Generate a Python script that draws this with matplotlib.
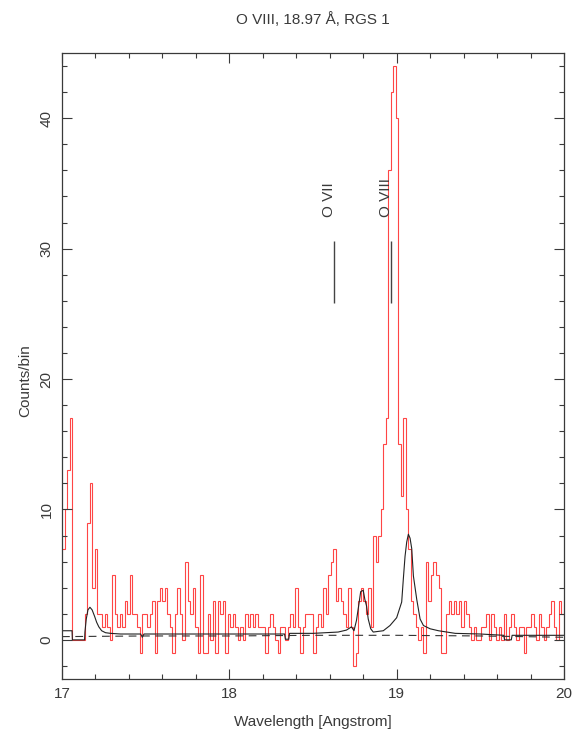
import numpy as np
import matplotlib
matplotlib.use('Agg')
import matplotlib.pyplot as plt
from matplotlib.ticker import MultipleLocator

matplotlib.rcParams['font.family'] = ['Liberation Sans', 'DejaVu Sans']

# observed counts per bin (red histogram), bins of 0.015 A starting at 17.0
bin_start = 17.0
bin_width = 0.015
counts = [
    7, 10, 13, 17, 0, 0, 0, 0, 0, 2,
    9, 12, 4, 7, 2, 2, 1, 2, 1, 0,
    5, 2, 1, 2, 1, 3, 2, 5, 2, 2,
    1, -1, 2, 2, 1, 2, 3, -1, 3, 4,
    3, 4, 2, 1, -1, 2, 4, 2, 0, 6,
    3, 2, 4, 1, -1, 5, -1, -1, 2, 0,
    3, -1, 3, 2, 3, -1, 2, 1, 2, 1,
    0, 1, 0, 2, 1, 2, 1, 2, 1, 1,
    1, -1, 1, 2, 1, 0, -1, 1, 1, 0,
    1, 2, 1, 4, 1, -1, 1, 2, 2, 2,
    -1, 1, 2, 1, 4, 2, 5, 6, 7, 3,
    4, 3, 2, 1, 4, 1, -2, -1, 3, 4,
    3, 2, 4, 1, 8, 6, 8, 10, 15, 17,
    36, 42, 44, 40, 15, 11, 17, 10, 7, 3,
    2, 1, 0, 1, -1, 6, 3, 5, 6, 5,
    4, -1, -1, 2, 3, 2, 3, 2, 3, 1,
    3, 2, 1, 0, 1, 0, 0, 1, 1, 2,
    0, 2, 1, 0, 1, 0, 2, 0, 1, 2,
    1, 0, 1, 1, -1, 1, 1, 2, 1, 0,
    2, 1, 0, 1, 2, 3, 1, 0, 3, 2,
]

# model (solid black) and continuum (dashed)
model_wave = [17.0, 17.06, 17.062, 17.135, 17.137, 17.145, 17.155, 17.167, 17.18, 17.195,
              17.207, 17.22, 17.237, 17.26, 17.29, 17.35, 17.47, 17.48, 17.49, 17.8,
              18.3, 18.33, 18.335, 18.355, 18.36, 18.5, 18.65, 18.7, 18.73, 18.745,
              18.76, 18.775, 18.785, 18.80, 18.81, 18.82, 18.83, 18.845, 18.86, 18.92,
              18.96, 19.0, 19.03, 19.04, 19.05, 19.06, 19.07, 19.08, 19.09, 19.1,
              19.12, 19.14, 19.16, 19.2, 19.25, 19.35, 19.5, 19.64, 19.645, 19.685,
              19.69, 19.8, 20.0]
model_counts = [0.7, 0.7, 0.0, 0.0, 0.6, 1.6, 2.3, 2.5, 2.3, 1.8,
                1.35, 1.0, 0.7, 0.55, 0.5, 0.45, 0.45, 0.2, 0.45, 0.45,
                0.45, 0.45, 0.05, 0.05, 0.5, 0.5, 0.6, 0.75, 1.0, 0.7,
                1.5, 2.8, 3.7, 3.8, 3.1, 2.6, 1.6, 0.85, 0.6, 0.7,
                1.1, 1.7, 2.9, 4.7, 6.4, 7.5, 8.1, 7.8, 7.0, 4.9,
                3.1, 1.6, 1.1, 0.85, 0.7, 0.5, 0.45, 0.35, 0.0, 0.0,
                0.35, 0.35, 0.35]
cont_wave = [17.0, 17.5, 18.0, 18.5, 19.0, 19.5, 20.0]
cont_counts = [0.25, 0.3, 0.3, 0.35, 0.35, 0.3, 0.2]

# line identifications
line_names = ['O VII', 'O VIII']
line_waves = [18.627, 18.967]

ink = '#3a3a3a'

fig = plt.figure(figsize=(5.81, 7.41), dpi=100)
ax = fig.add_axes([62/581, 1-679/741, (564-62)/581, (679-53)/741])

edges = bin_start + bin_width*np.arange(len(counts)+1)
ax.stairs(counts, edges, baseline=None, color='#ff4545', lw=0.8)
ax.plot(model_wave, model_counts, color='#222222', lw=0.8)
ax.plot(cont_wave, cont_counts, color='#333333', lw=0.8, ls=(0, (7, 5)))

for name, wl in zip(line_names, line_waves):
    ax.vlines(wl, 25.8, 30.6, color='#444444', lw=1.0)
    ax.text(wl-0.03, 32.4, name, rotation=90, ha='center', va='bottom',
            fontsize=11, color=ink)

ax.set_xlim(17, 20)
ax.set_ylim(-3, 45)
ax.xaxis.set_major_locator(MultipleLocator(1))
ax.xaxis.set_minor_locator(MultipleLocator(0.2))
ax.yaxis.set_major_locator(MultipleLocator(10))
ax.yaxis.set_minor_locator(MultipleLocator(2))
ax.tick_params(which='both', direction='in', top=True, right=True, color=ink,
               labelcolor=ink, labelsize=11, width=0.8)
ax.tick_params(which='major', length=7, pad=6)
ax.tick_params(which='minor', length=3.5)
for lab in ax.get_yticklabels():
    lab.set_rotation(90)
    lab.set_va('center')
for sp in ax.spines.values():
    sp.set_color(ink)
    sp.set_linewidth(0.9)

fig.text(313/581, 1-20/741, u'O VIII, 18.97 \u00c5, RGS 1', ha='center', va='center',
         fontsize=11, color=ink)
fig.text(313/581, 1-722/741, 'Wavelength [Angstrom]', ha='center', va='center',
         fontsize=11, color=ink)
fig.text(25/581, 1-381/741, 'Counts/bin', rotation=90, ha='center', va='center',
         fontsize=11, color=ink)

fig.savefig('out.png', dpi=100)
